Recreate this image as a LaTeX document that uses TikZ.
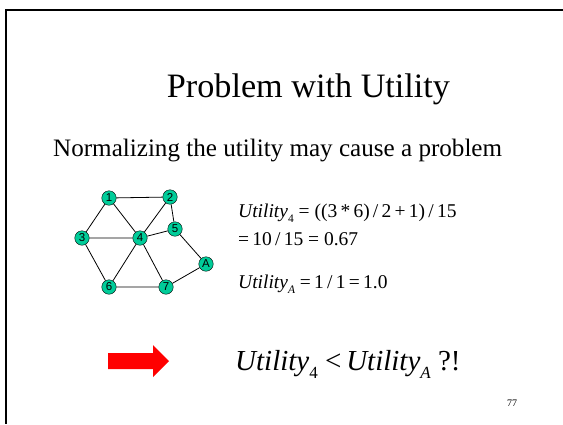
\documentclass[tikz,border=0pt]{standalone}
\usepackage{fontspec}
\setmainfont{Liberation Serif}
\newfontfamily\arialf{Liberation Sans}
\definecolor{nodegreen}{RGB}{0,204,153}
\newcommand\Util[2]{\textit{Utility}\raisebox{-0.3em}{\fontsize{#2}{#2}\selectfont #1}}
\begin{document}
\begin{tikzpicture}[x=1pt,y=-1pt,
  gnode/.style={circle,draw=black,fill=nodegreen,inner sep=0pt,minimum size=14.5pt,font=\arialf\fontsize{11.5}{11.5}\selectfont},
  gedge/.style={draw=black,line width=0.8pt},
  txt/.style={anchor=base west,inner sep=0pt}]
\useasboundingbox (0,0) rectangle (563,424);
\draw[line width=2.2pt] (563,10) -- (6,10) -- (6,424);
\node[anchor=base,font=\fontsize{34.2}{34.2}\selectfont] (title) at (308.5,97.7) {Problem with Utility};
\node[txt,font=\fontsize{25.1}{25.1}\selectfont] (sub) at (53,156) {Normalizing the utility may cause a problem};
% graph
\node[gnode] (n1) at (109,198) {1};
\node[gnode] (n2) at (170,197) {2};
\node[gnode] (n5) at (175,229) {5};
\node[gnode] (n4) at (140,238) {4};
\node[gnode] (n3) at (82,238) {3};
\node[gnode] (nA) at (206,264) {A};
\node[gnode] (n6) at (109,287) {6};
\node[gnode] (n7) at (166,287) {7};
\draw[gedge] (n1)--(n2) (n1)--(n3) (n1)--(n4) (n2)--(n4) (n2)--(n5) (n3)--(n4)
  (n3)--(n6) (n4)--(n5) (n4)--(n6) (n4)--(n7) (n5)--(nA) (n6)--(n7) (n7)--(nA);
% formulas
\node[txt,font=\fontsize{19.5}{19.5}\selectfont] (f1) at (238,217) {\Util{4}{11.5} = ((3\,*\,6)\,/\,2\,+\,1)\,/\,15};
\node[txt,font=\fontsize{19.5}{19.5}\selectfont] (f2) at (238,245) {=\,10\,/\,15 = 0.67};
\node[txt,font=\fontsize{19.5}{19.5}\selectfont] (f3) at (238,288) {\Util{\textit{A}}{11.5} =\,1\,/\,1\,=\,1.0};
% arrow
\fill[red] (108,353) -- (153,353) -- (153,345) -- (169,361) -- (153,377) -- (153,369) -- (108,369) -- cycle;
\node[txt,font=\fontsize{29}{29}\selectfont] (f4) at (235,370) {\Util{4}{17} <\,\Util{\textit{A}}{17} ?!};
\node[anchor=base,font=\fontsize{10}{10}\selectfont] (pg) at (512,406) {77};
\end{tikzpicture}
\end{document}
